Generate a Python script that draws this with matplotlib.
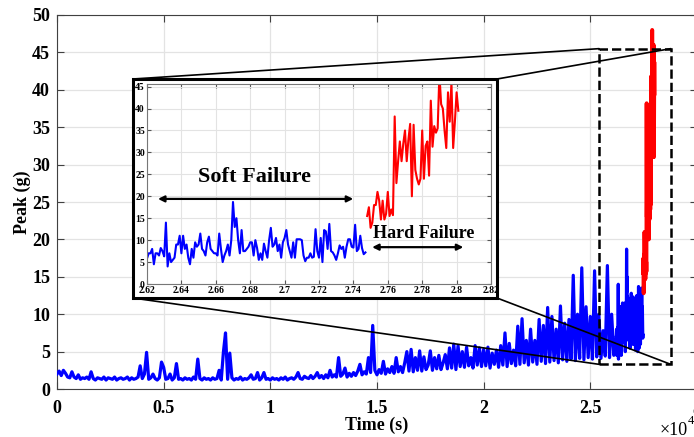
import numpy as np
import matplotlib
matplotlib.use('Agg')
import matplotlib.pyplot as plt
from matplotlib.patches import Rectangle, ConnectionPatch

# peak values, early part sampled every 100 s (0 .. 26100 s)
peak_early = [
    2.0, 2.4, 1.8, 2.5, 2.1, 1.6, 1.5, 2.3, 1.6, 1.4,
    1.9, 1.3, 1.5, 1.4, 1.6, 1.3, 2.3, 1.4, 1.2, 1.5,
    1.4, 1.3, 1.6, 1.2, 1.5, 1.4, 1.3, 1.6, 1.2, 1.4,
    1.5, 1.3, 1.4, 1.6, 1.2, 1.5, 1.3, 1.4, 1.6, 3.1,
    1.4, 2.0, 4.9, 1.3, 1.5, 2.0, 1.4, 1.2, 1.5, 3.6,
    2.9, 1.3, 1.4, 2.0, 1.2, 1.5, 3.4, 1.3, 1.4, 1.2,
    1.5, 1.3, 1.4, 1.2, 1.6, 1.3, 4.0, 1.4, 1.2, 1.5,
    1.3, 1.4, 1.2, 1.5, 1.3, 1.4, 2.5, 1.2, 4.9, 7.5,
    1.3, 4.8, 1.5, 1.2, 1.4, 1.3, 1.6, 1.2, 1.4, 1.3,
    1.5, 1.9, 1.3, 1.4, 2.2, 1.2, 1.5, 2.2, 1.3, 1.4,
    1.2, 1.5, 1.3, 1.4, 1.2, 1.5, 1.3, 1.6, 1.2, 1.4,
    1.5, 1.3, 1.6, 2.2, 1.4, 1.3, 1.7, 1.5, 1.4, 1.8,
    1.4, 1.7, 2.2, 1.5, 1.8, 1.4, 1.9, 1.5, 2.5, 1.6,
    1.9, 1.6, 4.2, 1.7, 2.0, 2.8, 1.6, 2.1, 1.7, 2.2,
    1.8, 2.4, 3.3, 1.9, 2.3, 2.0, 4.2, 2.2, 8.5, 2.5,
    1.9, 2.6, 2.1, 3.7, 2.0, 2.7, 2.2, 3.0, 2.1, 4.2,
    2.3, 3.0, 2.2, 3.5, 5.0, 2.4, 5.3, 2.3, 4.2, 2.5,
    5.1, 2.4, 4.3, 2.6, 3.2, 5.1, 2.5, 4.2, 2.7, 4.5,
    2.6, 3.5, 4.6, 2.7, 5.5, 2.8, 6.0, 2.6, 5.8, 3.0,
    5.0, 2.9, 5.6, 3.1, 4.2, 2.8, 5.8, 3.2, 5.5, 3.0,
    5.3, 3.1, 5.6, 2.8, 4.8, 3.3, 5.2, 2.9, 5.8, 3.2,
    7.5, 3.0, 6.1, 3.4, 5.2, 3.1, 8.4, 3.3, 9.4, 3.5,
    6.5, 3.2, 8.0, 3.6, 6.5, 3.3, 9.3, 3.7, 8.5, 3.4,
    10.9, 3.6, 9.7, 3.8, 8.0, 3.5, 11.1, 3.9, 8.8, 3.7,
    9.3, 4.0, 15.2, 3.8, 10.0, 4.1, 16.2, 3.9, 11.0, 4.2,
    9.7, 4.0, 15.8, 4.3, 10.0, 4.1, 7.8, 4.4, 16.5, 4.2,
    10.0, 4.5,
]

# soft failure part, every 10 s from 26200 s
peak_soft = [
    5.8, 7, 7, 8, 4.5, 7, 7, 6.5, 8.2, 7.5,
    6.3, 14, 4, 7, 5, 5.5, 6, 9, 9, 11,
    7, 11, 8, 9, 6, 4.5, 8, 6, 9.5, 8.5,
    9, 11.5, 8, 7.5, 6.5, 9.5, 10.8, 8, 7.5, 7,
    7, 6.5, 11.5, 8, 5, 6.5, 7.5, 9, 6.5, 10,
    18.7, 13, 15, 10, 7, 12.3, 7.5, 7.5, 8, 8.5,
    9.5, 9.5, 6.5, 10, 8.2, 5.5, 7, 5.5, 9.2, 7.5,
    6, 10, 12.8, 8.5, 9, 10.5, 7.5, 9, 6, 9.5,
    10.5, 12.3, 9, 7.5, 6, 9.5, 6, 10.2, 10.2, 10.2,
    10, 6.5, 5.2, 6, 6, 7, 6, 6.2, 12.5, 7.5,
    6, 10.5, 5, 12.3, 12, 8, 13.7, 7.5, 7.2, 6.5,
    5.5, 7, 8.8, 8, 8.5, 6, 8.5, 10.2, 10.2, 8.5,
    8.3, 13.5, 7.5, 8, 11, 8.2, 6.8, 7.2,
]

# hard failure part, every 10 s from 27480 s
peak_hard = [
    15.5, 17.5, 12.8, 14, 18, 18, 21, 19, 14.7, 19,
    14.7, 16, 21, 15.5, 17, 15.7, 38.2, 23, 28, 32.5,
    28, 32, 35, 28, 33, 36.5, 20, 36.3, 26, 24,
    22.7, 24, 35, 24, 31.5, 32.5, 24.7, 41.8, 31.3, 36,
    34.5, 35.5, 48, 41, 40, 35, 31, 43.7, 37, 46,
    31, 37, 43.7, 39.5,
]

t_early = 100 * np.arange(len(peak_early))
t_soft = 26200 + 10 * np.arange(len(peak_soft))
t_hard = 27480 + 10 * np.arange(len(peak_hard))
t_blue = np.concatenate([t_early, t_soft])
peak_blue = np.concatenate([peak_early, peak_soft])

xticks = [0, 5000, 10000, 15000, 20000, 25000, 30000]
xticklabels = ['0', '0.5', '1', '1.5', '2', '2.5', '3']
yticks = [0, 5, 10, 15, 20, 25, 30, 35, 40, 45, 50]
in_xticks = [26200, 26400, 26600, 26800, 27000, 27200, 27400, 27600, 27800, 28000, 28200]
in_xticklabels = ['2.62', '2.64', '2.66', '2.68', '2.7', '2.72', '2.74', '2.76', '2.78', '2.8', '2.82']
in_yticks = [0, 5, 10, 15, 20, 25, 30, 35, 40, 45]
zoom_box = (25410, 3.3, 28770, 45.5)  # x0, y0, x1, y1

plt.rcParams['font.family'] = ['Liberation Serif', 'DejaVu Serif']
plt.rcParams['font.weight'] = 'bold'

fig = plt.figure(figsize=(6.94, 4.37), dpi=100)
ax = fig.add_axes([0.0821, 0.1098, 0.9222, 0.8559])
ax.plot(t_blue, peak_blue, color='#0000ff', lw=2.3, zorder=3)
ax.plot(t_hard, peak_hard, color='#ff0000', lw=2.8, zorder=3)
ax.set_xlim(0, 30000)
ax.set_ylim(0, 50)
ax.set_xticks(xticks)
ax.set_xticklabels(xticklabels)
ax.set_yticks(yticks)
ax.grid(True, color='#e3e3e3', lw=0.9)
ax.set_axisbelow(True)
ax.tick_params(direction='in', length=5, top=True, right=True, labelsize=13,
               color='#404040')
ax.tick_params(axis='x', pad=8)
ax.tick_params(axis='y', pad=5)
for s in ax.spines.values():
    s.set_color('#404040')
ax.set_xlabel('Time (s)', fontsize=13, fontweight='bold', labelpad=0)
ax.set_ylabel('Peak (g)', fontsize=13, fontweight='bold', labelpad=1)
fig.text(0.951, 0.016, '×10', fontsize=13, fontweight='normal', ha='left', va='center')
fig.text(0.991, 0.036, '4', fontsize=9, fontweight='normal', ha='left', va='center')

# dashed zoom region
x0, y0, x1, y1 = zoom_box
ax.add_patch(Rectangle((x0, y0), x1 - x0, y1 - y0, fill=False, ls='--',
                       lw=1.8, ec='black', zorder=5))

# frame behind the inset
fx, fy, fw, fh = 0.1916, 0.3181, 0.5245, 0.5011
fig.patches.append(Rectangle((fx, fy), fw, fh, transform=fig.transFigure,
                             fc='white', ec='black', lw=2.2, zorder=4))
for fa, db in [((fx, fy + fh), (x0, y1)), ((fx + fw, fy + fh), (x1, y1)),
               ((fx, fy), (x0, y0)), ((fx + fw, fy), (x1, y0))]:
    con = ConnectionPatch(xyA=fa, coordsA='figure fraction', xyB=db, coordsB=ax.transData,
                          color='black', lw=1.2, zorder=4)
    fig.add_artist(con)

ax_in = fig.add_axes([0.2118, 0.3501, 0.4957, 0.4577], zorder=6)
ax_in.plot(t_soft, peak_soft, color='#0000ff', lw=1.5)
ax_in.plot(t_hard, peak_hard, color='#ff0000', lw=1.5)
ax_in.set_xlim(26200, 28200)
ax_in.set_ylim(0, 45.6)
ax_in.set_xticks(in_xticks)
ax_in.set_xticklabels(in_xticklabels)
ax_in.set_yticks(in_yticks)
ax_in.grid(True, color='#e3e3e3', lw=0.8)
ax_in.set_axisbelow(True)
ax_in.tick_params(direction='in', length=3, top=True, right=True, labelsize=7,
                  color='#555555', pad=1.5)
for s in ax_in.spines.values():
    s.set_color('#777777')
    s.set_linewidth(0.8)

ax_in.annotate('', xy=(26264, 19.4), xytext=(27399, 19.4),
               arrowprops=dict(arrowstyle='<|-|>', color='black', lw=1.6,
                               mutation_scale=9, shrinkA=0, shrinkB=0))
ax_in.text(26827, 24.4, 'Soft Failure', fontsize=16, fontweight='bold',
           ha='center', va='center')
ax_in.annotate('', xy=(27509, 8.4), xytext=(28039, 8.4),
               arrowprops=dict(arrowstyle='<|-|>', color='black', lw=1.6,
                               mutation_scale=9, shrinkA=0, shrinkB=0))
ax_in.text(27806, 11.6, 'Hard Failure', fontsize=13, fontweight='bold',
           ha='center', va='center')

fig.savefig('out.png', dpi=100)
